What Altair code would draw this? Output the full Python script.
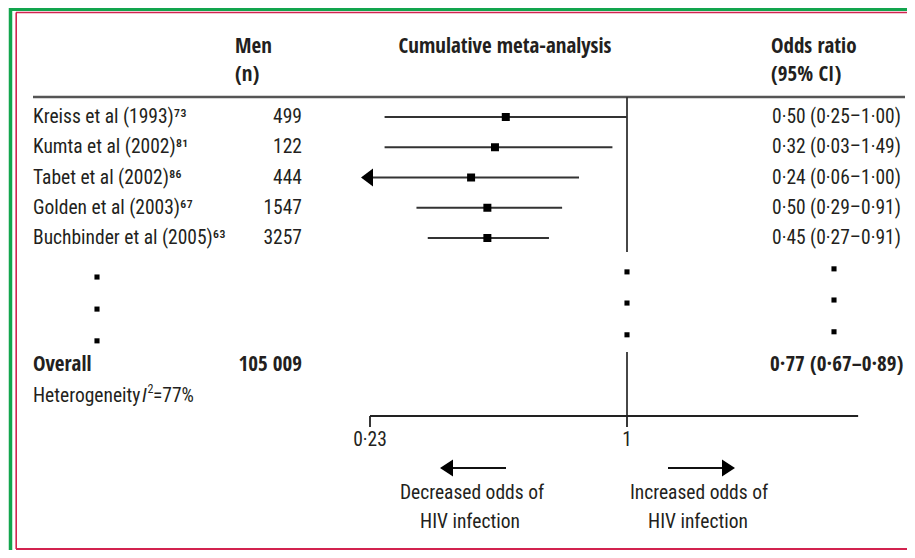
import altair as alt
import pandas as pd

# ---------------- data ----------------
studies = ["Kreiss et al (1993)", "Kumta et al (2002)", "Tabet et al (2002)",
           "Golden et al (2003)", "Buchbinder et al (2005)"]
refs = ["73", "81", "86", "67", "63"]
men_n = ["499", "122", "444", "1547", "3257"]
or_text = ["0·50 (0·25–1·00)", "0·32 (0·03–1·49)", "0·24 (0·06–1·00)",
           "0·50 (0·29–0·91)", "0·45 (0·27–0·91)"]
# cumulative estimates as drawn in the plot
cum_or = [0.50, 0.47, 0.41, 0.45, 0.45]
cum_lo = [0.25, 0.25, 0.21, 0.30, 0.32]
cum_hi = [1.00, 0.92, 0.76, 0.69, 0.64]
study_rows = [0, 1, 2, 3, 4]

overall_label = "Overall"
overall_n = "105 009"
overall_text = "0·77 (0·67–0·89)"
overall_row = 8.2
het_parts = ["Heterogeneity", "I", "2", "=77%"]
het_row = 9.22

ellipsis_rows_left = [5.29, 6.35, 7.4]
ellipsis_rows_mid = [5.12, 6.15, 7.2]
ellipsis_rows_right = [5.02, 6.05, 7.1]

axis_min, axis_max = 0.23, 3.75
tick_values = [0.23, 1]
tick_labels = ["0·23", "1"]
null_value = [1]

header_men = ["Men", "(n)"]
header_mid = "Cumulative meta-analysis"
header_or = ["Odds ratio", "(95% CI)"]
decreased = ["Decreased odds of", "HIV infection"]
increased = ["Increased odds of", "HIV infection"]

# ---------------- helpers ----------------
FONT = "Roboto Condensed"
BFONT = "Open Sans Condensed"
FS = 19.5
BFS = 21
TXT = "#231f20"
SUP = str.maketrans("0123456789", "⁰¹²³⁴⁵⁶⁷⁸⁹")

xs = alt.Scale(type="log", domain=[0.23, 1], range=[362, 619], nice=False, zero=False)
ys = alt.Scale(domain=[0, 10], range=[109, 411.5], nice=False, zero=False)

one = pd.DataFrame({"one": [1]})

df = pd.DataFrame({
    "label": [s + r.translate(SUP) for s, r in zip(studies, refs)],
    "n": men_n,
    "ortext": or_text,
    "or": cum_or,
    "lo": cum_lo,
    "hi": cum_hi,
    "row": study_rows,
})
df["lo_clip"] = df["lo"].clip(lower=axis_min)
arrows = df[df["lo"] < axis_min].assign(xa=axis_min)


def X(field):
    return alt.X(field, scale=xs, axis=None)


def Y(field):
    return alt.Y(field, scale=ys, axis=None)


def txt(s, x, y, size=None, bold=False, align="left", italic=False, dy=0):
    if size is None:
        size = BFS if bold else FS
    return alt.Chart(one).mark_text(
        align=align, baseline="middle", fontSize=size, font=BFONT if bold else FONT,
        fontWeight="bold" if bold else "normal",
        fontStyle="italic" if italic else "normal", color=TXT, dy=dy
    ).encode(x=alt.value(x), y=alt.value(y), text=alt.value(s))


def hline(x1, x2, y, color, width):
    return alt.Chart(one).mark_rule(color=color, strokeWidth=width).encode(
        x=alt.value(x1), x2=alt.value(x2), y=alt.value(y))


def vline(x, y1, y2, color, width):
    return alt.Chart(one).mark_rule(color=color, strokeWidth=width).encode(
        x=alt.value(x), y=alt.value(y1), y2=alt.value(y2))


layers = []

# frame
GREEN = "#12a54d"
RED = "#d2234f"
layers += [
    hline(1, 899, 1.5, GREEN, 3),
    vline(2.5, 0, 542, GREEN, 3.5),
    hline(8, 899, 4.5, RED, 1.6),
    vline(8.2, 4.5, 541, RED, 1.6),
    hline(8, 899, 541, RED, 1.8),
]

# headers
layers += [
    txt(header_men[0], 227, 39, bold=True),
    txt(header_men[1], 227, 67, bold=True),
    txt(header_mid, 497, 39, bold=True, align="center"),
    txt(header_or[0], 763, 39, bold=True),
    txt(header_or[1], 763, 67, bold=True),
    hline(25, 897, 89, "#555555", 2.5),
]

# null line (two segments)
null_df = pd.DataFrame({"x": null_value})
layers += [
    alt.Chart(null_df).mark_rule(color="#333333", strokeWidth=1.8).encode(
        x=X("x:Q"), y=alt.value(89), y2=alt.value(244)),
    alt.Chart(null_df).mark_rule(color="#333333", strokeWidth=1.8).encode(
        x=X("x:Q"), y=alt.value(344), y2=alt.value(408)),
]

# confidence intervals, squares, arrows
base = alt.Chart(df)
layers += [
    base.mark_rule(color="#333333", strokeWidth=2).encode(
        x=X("lo_clip:Q"), x2="hi:Q", y=Y("row:Q")),
    base.mark_point(shape="square", filled=True, size=64, color="black", opacity=1).encode(
        x=X("or:Q"), y=Y("row:Q")),
    alt.Chart(arrows).mark_point(shape="M-1.5,0L0.5,-1.5L0.5,1.5Z", filled=True,
                                 size=144, color="black", opacity=1).encode(
        x=X("xa:Q"), y=Y("row:Q")),
]

# text columns
def col_text(data, x, field, align, bold=False):
    return data.mark_text(align=align, baseline="middle", fontSize=BFS if bold else FS,
                          font=BFONT if bold else FONT,
                          fontWeight="bold" if bold else "normal", color=TXT).encode(
        x=alt.value(x), y=Y("row:Q"), text=field)

layers += [
    col_text(base, 25, "label:N", "left"),
    col_text(base, 294, "n:N", "right"),
    col_text(base, 764, "ortext:N", "left"),
]

# ellipsis dots
def dots(rows, xenc):
    d = pd.DataFrame({"row": rows, "x": null_value * len(rows)})
    return alt.Chart(d).mark_point(shape="square", filled=True, size=26,
                                   color="black", opacity=1).encode(x=xenc, y=Y("row:Q"))

layers += [
    dots(ellipsis_rows_left, alt.value(89)),
    dots(ellipsis_rows_mid, X("x:Q")),
    dots(ellipsis_rows_right, alt.value(826)),
]

# overall row
ov = pd.DataFrame({"row": [overall_row], "label": [overall_label], "n": [overall_n],
                   "ortext": [overall_text]})
ovb = alt.Chart(ov)
layers += [
    col_text(ovb, 25, "label:N", "left", bold=True),
    col_text(ovb, 294, "n:N", "right", bold=True),
    col_text(ovb, 762, "ortext:N", "left", bold=True),
]

# heterogeneity
het_y = 109 + 30.25 * het_row
layers += [
    txt(het_parts[0], 25, het_y),
    txt(het_parts[1], 134, het_y, italic=True),
    txt(het_parts[2], 139.5, het_y, size=12, dy=-7),
    txt(het_parts[3], 145, het_y),
]

# x axis
tick_df = pd.DataFrame({"t": tick_values, "lab": tick_labels})
axis_df = pd.DataFrame({"a": [axis_min], "b": [axis_max]})
layers += [
    alt.Chart(axis_df).mark_rule(color="#222222", strokeWidth=1.8).encode(
        x=X("a:Q"), x2="b:Q", y=alt.value(408)),
    alt.Chart(tick_df).mark_rule(color="#222222", strokeWidth=1.8).encode(
        x=X("t:Q"), y=alt.value(408), y2=alt.value(419)),
    alt.Chart(tick_df).mark_text(align="center", baseline="middle", fontSize=FS, font=FONT,
                                 color=TXT).encode(x=X("t:Q"), y=alt.value(432), text="lab:N"),
]

# direction arrows
layers += [
    hline(438, 498, 460, "#111111", 2),
    alt.Chart(one).mark_point(shape="M-1,0L1,-1.3L1,1.3Z", filled=True, size=169,
                              color="black", opacity=1).encode(
        x=alt.value(438.5), y=alt.value(460)),
    hline(660, 721, 460, "#111111", 2),
    alt.Chart(one).mark_point(shape="M1,0L-1,-1.3L-1,1.3Z", filled=True, size=169,
                              color="black", opacity=1).encode(
        x=alt.value(720.5), y=alt.value(460)),
    txt(decreased[0], 464, 485, align="center"),
    txt(decreased[1], 462, 514, align="center"),
    txt(increased[0], 691, 485, align="center"),
    txt(increased[1], 690, 514, align="center"),
]

chart = alt.layer(*layers).properties(
    width=899, height=542,
    autosize=alt.AutoSizeParams(type="none"),
    padding=0,
    background="white",
).configure_view(strokeWidth=0)

chart.save("out.html", embed_options={"renderer": "svg", "actions": False})
